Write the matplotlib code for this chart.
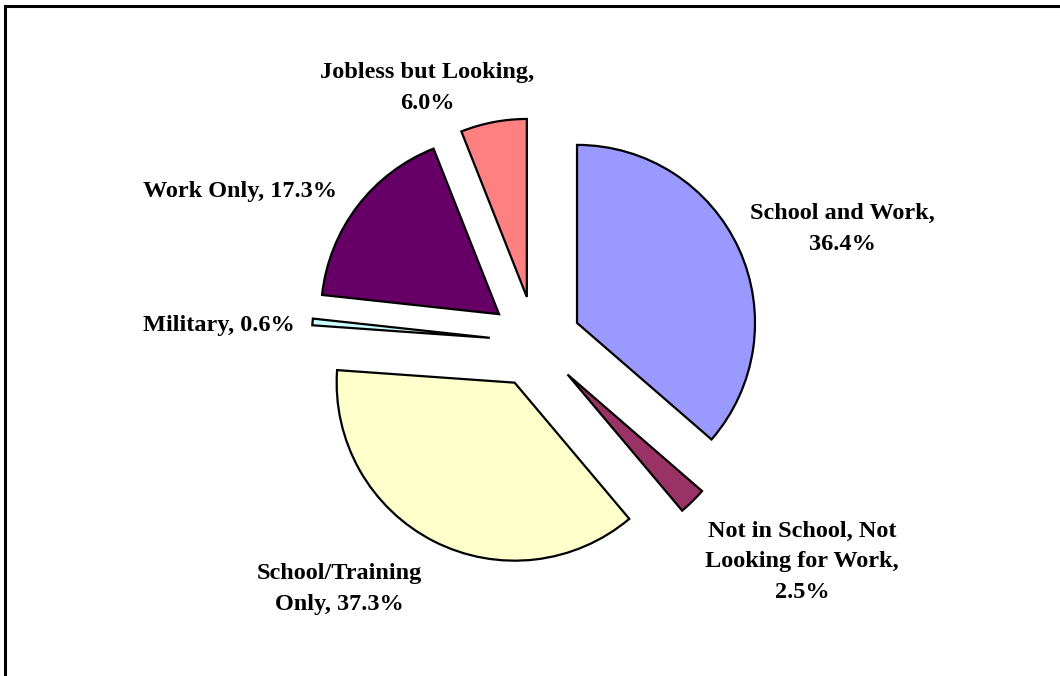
"""Exploded pie: activity of youth after leaving high school."""
import matplotlib
matplotlib.use("Agg")
import matplotlib.pyplot as plt
from matplotlib.lines import Line2D

categories = ["School and Work", "Not in School, Not Looking for Work",
              "School/Training Only", "Military", "Work Only",
              "Jobless but Looking"]
shares = [36.4, 2.5, 37.3, 0.6, 17.3, 6.0]
label_texts = ["School and Work,\n36.4%",
               "Not in School, Not\nLooking for Work,\n2.5%",
               "School/Training\nOnly, 37.3%",
               "Military, 0.6%",
               "Work Only, 17.3%",
               "Jobless but Looking,\n6.0%"]
colors = ["#9999FF", "#993366", "#FFFFCC", "#CCFFFF", "#660066", "#FF8080"]

W, H = 1060, 676
centre = (535.4, H - 341.9)
rayon = 178
ecart = 0.257 * rayon

# label anchor points (pixel space, y measured from top)
label_pos = [(842, 229), (802, 562), (339, 589), (219, 326), (240, 192), (427, 88)]

fig = plt.figure(figsize=(W / 100, H / 100), dpi=100)
ax = fig.add_axes([0, 0, 1, 1])
ax.pie(shares, colors=colors, startangle=90, counterclock=False,
       explode=[ecart] * len(shares), center=centre, radius=rayon,
       wedgeprops=dict(edgecolor="black", linewidth=1.6, joinstyle="miter"))
ax.set_xlim(0, W)
ax.set_ylim(0, H)
ax.set_aspect("auto")
ax.axis("off")

for txt, (x, y) in zip(label_texts, label_pos):
    ax.text(x, H - y, txt, ha="center", va="center", fontsize=17.5,
            fontweight="bold", family="Liberation Serif", linespacing=1.6)

# cadre: top and left edges only
for xs, ys in [((5, 5), (6, H)), ((5, W), (6, 6))]:
    fig.add_artist(Line2D([x / W for x in xs], [1 - y / H for y in ys],
                          color="black", linewidth=2.2,
                          solid_capstyle="projecting"))

fig.savefig("out.png", dpi=100)
